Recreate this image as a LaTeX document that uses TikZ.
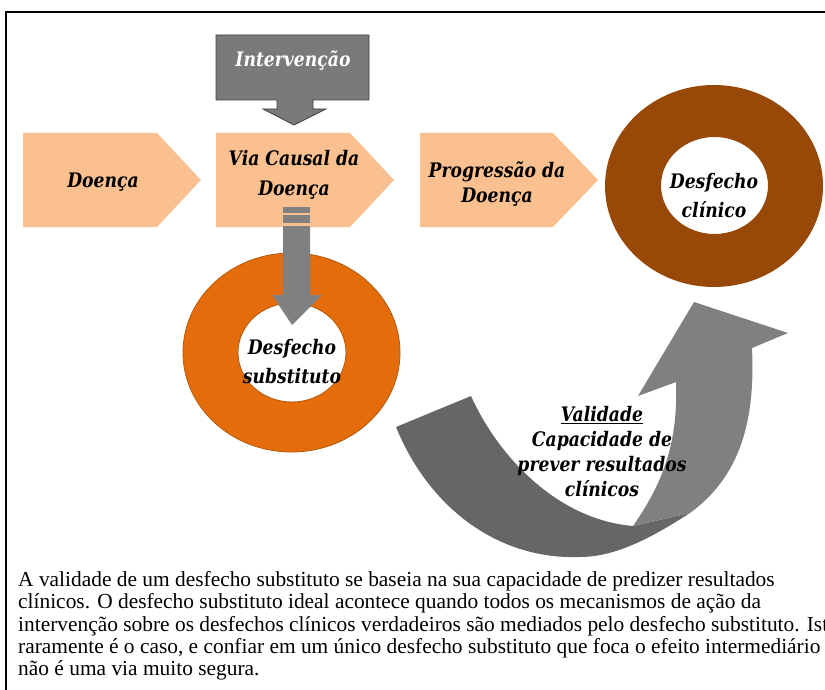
\documentclass[tikz,border=0pt]{standalone}
\usepackage{fontspec}
\newfontfamily\notefont{Liberation Serif}
\newfontfamily\lblfont[FakeStretch=0.86]{DejaVu Serif}
\definecolor{peach}{HTML}{FAC090}
\definecolor{ringbrown}{HTML}{984807}
\definecolor{ringorange}{HTML}{E46C0A}
\definecolor{ringedge}{HTML}{B35A0C}
\definecolor{arrowgray}{HTML}{808080}
\definecolor{arrowdark}{HTML}{666666}
\definecolor{boxgray}{HTML}{7A7A7A}

\begin{document}
\begin{tikzpicture}[x=1pt, y=-1pt,
    chev/.style={fill=peach},
    lbl/.style={font=\lblfont\bfseries\itshape\fontsize{20}{29}\selectfont, align=center, inner sep=0pt},
    note/.style={font=\notefont\fontsize{21.4}{22}\selectfont, anchor=base west, inner sep=0pt}]
    \useasboundingbox (0,0) rectangle (825,690);
    % moldura
    \draw [line width=1.5pt] (6,700) -- (6,12) -- (830,12);

    % Intervencao
    \filldraw [fill=boxgray, draw=black!75, line width=0.8pt] (216,35) -- (369,35) -- (369,100) -- (313,100) -- (313,109)
        -- (326,109) -- (294,125) -- (263,109) -- (277,109) -- (277,100) -- (216,100) -- cycle;
    \node [lbl, white] (intervencao) at (293,61) {Intervenção};

    % cadeia da doenca
    \fill [chev] (23,133) -- (157,133) -- (201,180) -- (157,227) -- (23,227) -- cycle;
    \fill [chev] (216,133) -- (350,133) -- (394,180) -- (350,227) -- (216,227) -- cycle;
    \fill [chev] (420,133) -- (553,133) -- (598,180) -- (553,227) -- (420,227) -- cycle;
    \node [lbl] (doenca) at (103,182) {Doença};
    \node [lbl, font=\lblfont\bfseries\itshape\fontsize{20}{30}\selectfont] (via) at (294,175) {Via Causal da\\Doença};
    \node [lbl, font=\lblfont\bfseries\itshape\fontsize{20}{25}\selectfont] (progressao) at (497,184.5) {Progressão da\\Doença};

    % desfecho clinico
    \fill [ringbrown, even odd rule] (714,186) ellipse [x radius=109, y radius=101]
        (714.5,185.5) ellipse [x radius=53.5, y radius=48.5];
    \node [lbl] (clinico) at (714,196) {Desfecho\\clínico};

    % desfecho substituto
    \filldraw [fill=ringorange, draw=ringedge, line width=0.8pt, even odd rule] (291.5,352.5) ellipse [x radius=108.5, y radius=99.5]
        (292,352.5) ellipse [x radius=54, y radius=49.5];
    \fill [arrowgray] (283,207) rectangle (310,213);
    \fill [arrowgray] (283,215) rectangle (310,223);
    \fill [arrowgray] (283,226) -- (310,226) -- (310,295) -- (322,295) -- (292,325) -- (272,295) -- (283,295) -- cycle;
    \node [lbl] (substituto) at (292,362) {Desfecho\\substituto};

    % seta curva
    \fill [arrowdark] (396,427) -- (471,396) .. controls (500,460) and (560,520) .. (633,526) -- (690,513)
        .. controls (660,532) and (620,557) .. (580,557) .. controls (500,560) and (430,510) .. (396,427) -- cycle;
    \fill [arrowgray] (633,526) .. controls (665,480) and (678,440) .. (676,382) -- (638,396) -- (694,302)
        -- (788,333) -- (752,348) .. controls (756,430) and (735,480) .. (690,513) -- cycle;
    \node [lbl, font=\lblfont\bfseries\itshape\fontsize{20}{25}\selectfont] (validade) at (602,452)
        {\underline{Validade}\\Capacidade de\\prever resultados\\clínicos};

    % texto
    \node [note] (nota1) at (18,586) {A validade de um desfecho substituto se baseia na sua capacidade de predizer resultados};
    \node [note] (nota2) at (18,608) {clínicos. O desfecho substituto ideal acontece quando todos os mecanismos de ação da};
    \node [note] (nota3) at (18,631) {intervenção sobre os desfechos clínicos verdadeiros são mediados pelo desfecho substituto. Isto};
    \node [note] (nota4) at (18,653) {raramente é o caso, e confiar em um único desfecho substituto que foca o efeito intermediário};
    \node [note] (nota5) at (18,675) {não é uma via muito segura.};
\end{tikzpicture}
\end{document}
